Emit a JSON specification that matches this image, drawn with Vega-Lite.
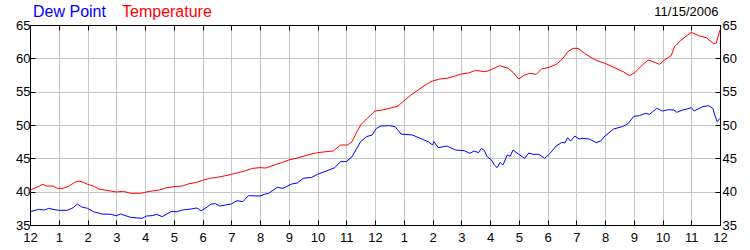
{
  "$schema": "https://vega.github.io/schema/vega-lite/v6.json",
  "width": 690,
  "height": 200,
  "autosize": {"type": "none"},
  "padding": {"left": 30, "top": 25, "right": 30, "bottom": 25},
  "background": "white",
  "title": {"text": "11/15/2006", "anchor": "end", "fontSize": 13, "font": "Liberation Sans", "fontWeight": "normal", "color": "black", "baseline": "alphabetic", "offset": 0, "dy": 25, "dx": -18},
  "config": {
    "view": {"stroke": "black", "strokeWidth": 1},
    "axis": {"domainColor": "black", "gridColor": "#c8c8c8", "gridWidth": 1, "tickColor": "black", "labelFont": "Liberation Sans", "labelFontSize": 13, "labelColor": "black", "title": null, "tickSize": -5}
  },
  "datasets": {
    "temp": [
      {"h":0,"v":40.2},{"h":0.2,"v":40.6},{"h":0.45,"v":41.1},{"h":0.55,"v":40.85},{"h":0.8,"v":40.85},{"h":0.95,"v":40.5},{"h":1.15,"v":40.5},{"h":1.35,"v":40.8},{"h":1.55,"v":41.4},{"h":1.7,"v":41.6},{"h":1.85,"v":41.4},{"h":2.0,"v":41.1},{"h":2.2,"v":40.85},{"h":2.4,"v":40.4},{"h":2.6,"v":40.25},{"h":3.0,"v":39.95},{"h":3.25,"v":40.05},{"h":3.5,"v":39.75},{"h":3.85,"v":39.75},{"h":4.1,"v":40.0},{"h":4.5,"v":40.25},{"h":4.75,"v":40.6},{"h":5.0,"v":40.75},{"h":5.3,"v":40.85},{"h":5.5,"v":41.15},{"h":5.8,"v":41.4},{"h":6.0,"v":41.7},{"h":6.25,"v":42.0},{"h":6.5,"v":42.15},{"h":6.75,"v":42.35},{"h":7.0,"v":42.6},{"h":7.25,"v":42.85},{"h":7.5,"v":43.15},{"h":7.75,"v":43.5},{"h":8.0,"v":43.6},{"h":8.2,"v":43.55},{"h":8.5,"v":44.0},{"h":8.75,"v":44.35},{"h":9.0,"v":44.75},{"h":9.25,"v":45.0},{"h":9.5,"v":45.3},{"h":9.75,"v":45.6},{"h":10.0,"v":45.85},{"h":10.3,"v":46.0},{"h":10.55,"v":46.1},{"h":10.8,"v":47.0},{"h":11.05,"v":47.0},{"h":11.2,"v":47.5},{"h":11.35,"v":48.8},{"h":11.5,"v":50.0},{"h":11.7,"v":50.9},{"h":11.85,"v":51.5},{"h":12.0,"v":52.1},{"h":12.25,"v":52.25},{"h":12.5,"v":52.5},{"h":12.8,"v":52.85},{"h":13.0,"v":53.6},{"h":13.25,"v":54.5},{"h":13.5,"v":55.25},{"h":13.75,"v":56.0},{"h":14.0,"v":56.6},{"h":14.25,"v":56.9},{"h":14.5,"v":57.0},{"h":14.75,"v":57.3},{"h":15.0,"v":57.65},{"h":15.25,"v":57.8},{"h":15.5,"v":58.2},{"h":15.8,"v":58.0},{"h":15.93,"v":58.1},{"h":16.34,"v":58.9},{"h":16.63,"v":58.5},{"h":16.8,"v":57.9},{"h":17.0,"v":56.9},{"h":17.2,"v":57.5},{"h":17.38,"v":57.75},{"h":17.61,"v":57.6},{"h":17.79,"v":58.4},{"h":18.02,"v":58.6},{"h":18.31,"v":59.1},{"h":18.54,"v":60.0},{"h":18.71,"v":61.0},{"h":18.89,"v":61.5},{"h":19.06,"v":61.5},{"h":19.29,"v":60.75},{"h":19.52,"v":60.1},{"h":19.76,"v":59.6},{"h":20.0,"v":59.25},{"h":20.28,"v":58.7},{"h":20.63,"v":58.0},{"h":20.86,"v":57.4},{"h":21.05,"v":57.9},{"h":21.2,"v":58.6},{"h":21.5,"v":59.75},{"h":21.67,"v":59.5},{"h":21.9,"v":59.1},{"h":22.07,"v":59.75},{"h":22.3,"v":60.4},{"h":22.42,"v":61.75},{"h":22.65,"v":62.75},{"h":23.0,"v":63.9},{"h":23.29,"v":63.35},{"h":23.52,"v":63.1},{"h":23.76,"v":62.25},{"h":23.87,"v":62.25},{"h":24.0,"v":64.25}
    ],
    "dew": [
      {"h":0,"v":37.0},{"h":0.3,"v":37.35},{"h":0.5,"v":37.25},{"h":0.65,"v":37.5},{"h":0.8,"v":37.35},{"h":1.0,"v":37.2},{"h":1.3,"v":37.2},{"h":1.5,"v":37.6},{"h":1.65,"v":38.15},{"h":1.8,"v":37.7},{"h":2.0,"v":37.5},{"h":2.2,"v":37.0},{"h":2.5,"v":36.65},{"h":2.8,"v":36.6},{"h":3.0,"v":36.4},{"h":3.15,"v":36.65},{"h":3.5,"v":36.15},{"h":3.9,"v":36.0},{"h":4.05,"v":36.35},{"h":4.25,"v":36.4},{"h":4.4,"v":36.6},{"h":4.6,"v":36.25},{"h":4.9,"v":37.0},{"h":5.1,"v":37.0},{"h":5.3,"v":37.25},{"h":5.6,"v":37.4},{"h":5.8,"v":37.55},{"h":5.95,"v":37.15},{"h":6.1,"v":37.5},{"h":6.3,"v":38.15},{"h":6.45,"v":38.2},{"h":6.6,"v":37.85},{"h":6.8,"v":38.0},{"h":7.0,"v":38.15},{"h":7.2,"v":38.65},{"h":7.4,"v":38.5},{"h":7.6,"v":39.4},{"h":8.0,"v":39.35},{"h":8.15,"v":39.6},{"h":8.3,"v":39.75},{"h":8.6,"v":40.65},{"h":8.8,"v":40.5},{"h":9.1,"v":41.15},{"h":9.3,"v":41.3},{"h":9.5,"v":42.0},{"h":9.8,"v":42.15},{"h":10.0,"v":42.6},{"h":10.4,"v":43.25},{"h":10.6,"v":43.6},{"h":10.8,"v":44.5},{"h":11.0,"v":44.5},{"h":11.2,"v":45.25},{"h":11.5,"v":47.5},{"h":11.7,"v":48.25},{"h":11.9,"v":48.5},{"h":12.05,"v":49.5},{"h":12.2,"v":49.85},{"h":12.5,"v":49.9},{"h":12.7,"v":49.75},{"h":12.9,"v":48.65},{"h":13.3,"v":48.5},{"h":13.6,"v":47.95},{"h":13.85,"v":47.5},{"h":14.0,"v":47.0},{"h":14.05,"v":47.5},{"h":14.2,"v":46.6},{"h":14.5,"v":46.85},{"h":14.8,"v":46.25},{"h":15.1,"v":46.15},{"h":15.3,"v":45.75},{"h":15.45,"v":46.1},{"h":15.6,"v":45.85},{"h":15.7,"v":46.5},{"h":15.8,"v":46.2},{"h":15.9,"v":45.25},{"h":16.05,"v":44.75},{"h":16.15,"v":44.0},{"h":16.25,"v":43.6},{"h":16.35,"v":44.4},{"h":16.45,"v":44.0},{"h":16.6,"v":45.5},{"h":16.7,"v":45.3},{"h":16.8,"v":46.25},{"h":17.0,"v":45.6},{"h":17.2,"v":45.0},{"h":17.35,"v":45.8},{"h":17.5,"v":45.6},{"h":17.7,"v":45.6},{"h":17.9,"v":45.0},{"h":18.1,"v":45.8},{"h":18.3,"v":46.85},{"h":18.5,"v":47.4},{"h":18.6,"v":47.3},{"h":18.7,"v":48.1},{"h":18.8,"v":47.6},{"h":18.95,"v":48.35},{"h":19.1,"v":47.9},{"h":19.2,"v":48.0},{"h":19.45,"v":47.9},{"h":19.7,"v":47.35},{"h":19.85,"v":47.6},{"h":20.0,"v":48.35},{"h":20.3,"v":49.4},{"h":20.6,"v":49.75},{"h":20.8,"v":50.2},{"h":21.0,"v":51.3},{"h":21.2,"v":51.4},{"h":21.4,"v":51.75},{"h":21.55,"v":51.6},{"h":21.8,"v":52.5},{"h":22.0,"v":52.1},{"h":22.2,"v":52.3},{"h":22.4,"v":52.25},{"h":22.5,"v":51.9},{"h":22.7,"v":52.25},{"h":22.85,"v":52.4},{"h":23.0,"v":52.6},{"h":23.1,"v":52.1},{"h":23.4,"v":52.75},{"h":23.6,"v":52.9},{"h":23.75,"v":52.5},{"h":23.82,"v":51.5},{"h":23.9,"v":50.5},{"h":24.0,"v":51.0}
    ]
  },
  "layer": [
    {
      "data": {"name": "dew"},
      "transform": [{"calculate": "'Dew Point'", "as": "series"}],
      "mark": {"type": "line", "strokeWidth": 1},
      "encoding": {
        "x": {"field": "h", "type": "quantitative", "scale": {"domain": [0, 24], "nice": false, "zero": false},
          "axis": {"orient": "bottom", "values": [0,1,2,3,4,5,6,7,8,9,10,11,12,13,14,15,16,17,18,19,20,21,22,23,24], "labelExpr": "datum.value % 12 == 0 ? '12' : '' + (datum.value % 12)", "grid": true, "labelPadding": 11, "labelFlush": false}},
        "y": {"field": "v", "type": "quantitative", "scale": {"domain": [35, 65], "nice": false, "zero": false},
          "axis": {"orient": "left", "values": [35,40,45,50,55,60,65], "grid": true, "labelPadding": 5}},
        "color": {"field": "series", "type": "nominal",
          "scale": {"domain": ["Dew Point", "Temperature"], "range": ["#0000ff", "#ff0000"]},
          "legend": {"orient": "none", "legendX": -13, "legendY": -21, "direction": "horizontal", "title": null,
            "symbolSize": 0, "symbolStrokeWidth": 0, "symbolOpacity": 0, "labelOffset": 0, "columnPadding": 0,
            "labelFont": "Liberation Sans", "labelFontSize": 16, "padding": 0,
            "encode": {"labels": {"update": {"fill": {"scale": "color", "field": "value"}}}}}}
      }
    },
    {
      "data": {"name": "temp"},
      "transform": [{"calculate": "'Temperature'", "as": "series"}],
      "mark": {"type": "line", "strokeWidth": 1},
      "encoding": {
        "x": {"field": "h", "type": "quantitative",
          "axis": {"orient": "top", "values": [0,1,2,3,4,5,6,7,8,9,10,11,12,13,14,15,16,17,18,19,20,21,22,23,24], "labels": false, "grid": false}},
        "y": {"field": "v", "type": "quantitative",
          "axis": {"orient": "right", "values": [35,40,45,50,55,60,65], "grid": false, "labelPadding": 7}},
        "color": {"field": "series", "type": "nominal"}
      }
    }
  ],
  "resolve": {"axis": {"x": "independent", "y": "independent"}}
}
